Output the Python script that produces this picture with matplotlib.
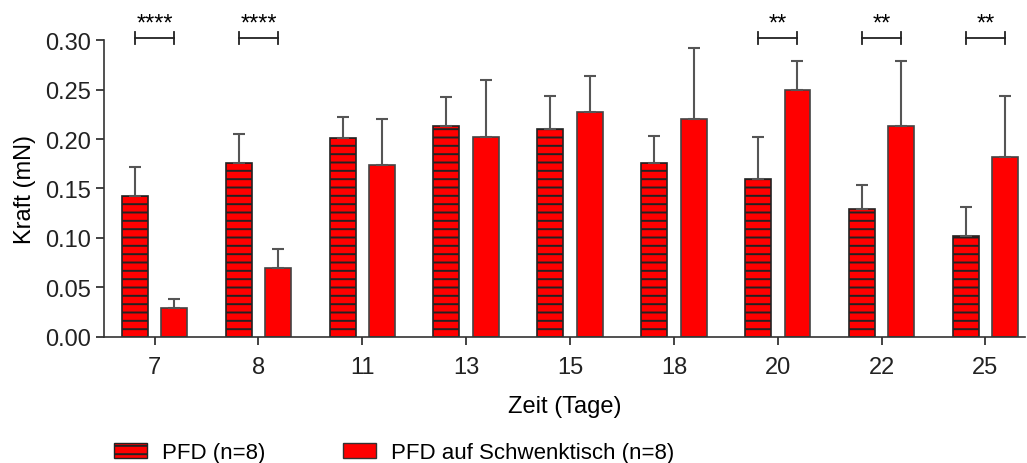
import matplotlib
matplotlib.use("Agg")
import matplotlib.pyplot as plt
import numpy as np
from matplotlib.patches import Patch

plt.rcParams['font.family'] = ['Liberation Sans', 'DejaVu Sans']
plt.rcParams['hatch.linewidth'] = 1.4

# data
days = ['7', '8', '11', '13', '15', '18', '20', '22', '25']
pfd_mean = [0.142, 0.176, 0.201, 0.213, 0.210, 0.176, 0.160, 0.129, 0.102]
pfd_err = [0.030, 0.029, 0.021, 0.029, 0.033, 0.027, 0.042, 0.025, 0.029]
swing_mean = [0.029, 0.070, 0.174, 0.202, 0.227, 0.220, 0.250, 0.213, 0.182]
swing_err = [0.009, 0.019, 0.046, 0.058, 0.037, 0.072, 0.029, 0.066, 0.061]
sig_groups = [0, 1, 6, 7, 8]
sig_labels = ['****', '****', '**', '**', '**']

x = np.arange(len(days))
w = 0.25
off = 0.19

fig = plt.figure(figsize=(10.27, 4.64), dpi=100)
ax = fig.add_axes([0.101, 0.2716, 0.897, 0.64])

ax.bar(x - off, pfd_mean, w, color='#ff0000', edgecolor='#222222', linewidth=1.2, hatch='--')
ax.bar(x + off, swing_mean, w, color='#ff0000', edgecolor='#444444', linewidth=1.2)
ax.errorbar(x - off, pfd_mean, yerr=[np.zeros(len(x)), pfd_err], fmt='none',
            ecolor='#555555', elinewidth=1.5, capsize=4, capthick=1.5)
ax.errorbar(x + off, swing_mean, yerr=[np.zeros(len(x)), swing_err], fmt='none',
            ecolor='#555555', elinewidth=1.5, capsize=4, capthick=1.5)

# significance brackets
for g, lab in zip(sig_groups, sig_labels):
    y0 = 0.302
    ax.plot([g - off, g + off], [y0, y0], color='#222222', lw=1.3, clip_on=False)
    for xe in (g - off, g + off):
        ax.plot([xe, xe], [y0 - 0.006, y0 + 0.006], color='#222222', lw=1.3, clip_on=False)
    ax.text(g, 0.306, lab, ha='center', va='bottom', fontsize=17, clip_on=False)

ax.set_xlim(-0.49, 8.38)
ax.set_ylim(0, 0.30)
ax.set_yticks(np.arange(0, 0.31, 0.05))
ax.set_yticklabels(['%.2f' % v for v in np.arange(0, 0.31, 0.05)])
ax.set_xticks(x)
ax.set_xticklabels(days)
ax.tick_params(axis='both', labelsize=17, length=6, width=1.2, colors='#222222')
ax.tick_params(axis='x', pad=8)
for s in ['top', 'right']:
    ax.spines[s].set_visible(False)
for s in ['left', 'bottom']:
    ax.spines[s].set_color('#333333')
    ax.spines[s].set_linewidth(1.2)

ax.set_ylabel('Kraft (mN)', fontsize=17, labelpad=6)
ax.set_xlabel('Zeit (Tage)', fontsize=17, labelpad=12)

handles = [Patch(facecolor='#ff0000', edgecolor='#222222', hatch='--', label='PFD (n=8)'),
           Patch(facecolor='#ff0000', edgecolor='#333333', label='PFD auf Schwenktisch (n=8)')]
fig.legend(handles=handles, loc='center left', bbox_to_anchor=(0.111, 0.022), ncol=2,
           frameon=False, fontsize=16, handlelength=1.5, handleheight=0.65,
           columnspacing=3.5, handletextpad=0.65, borderpad=0, borderaxespad=0)

fig.savefig('out.png', dpi=100)
